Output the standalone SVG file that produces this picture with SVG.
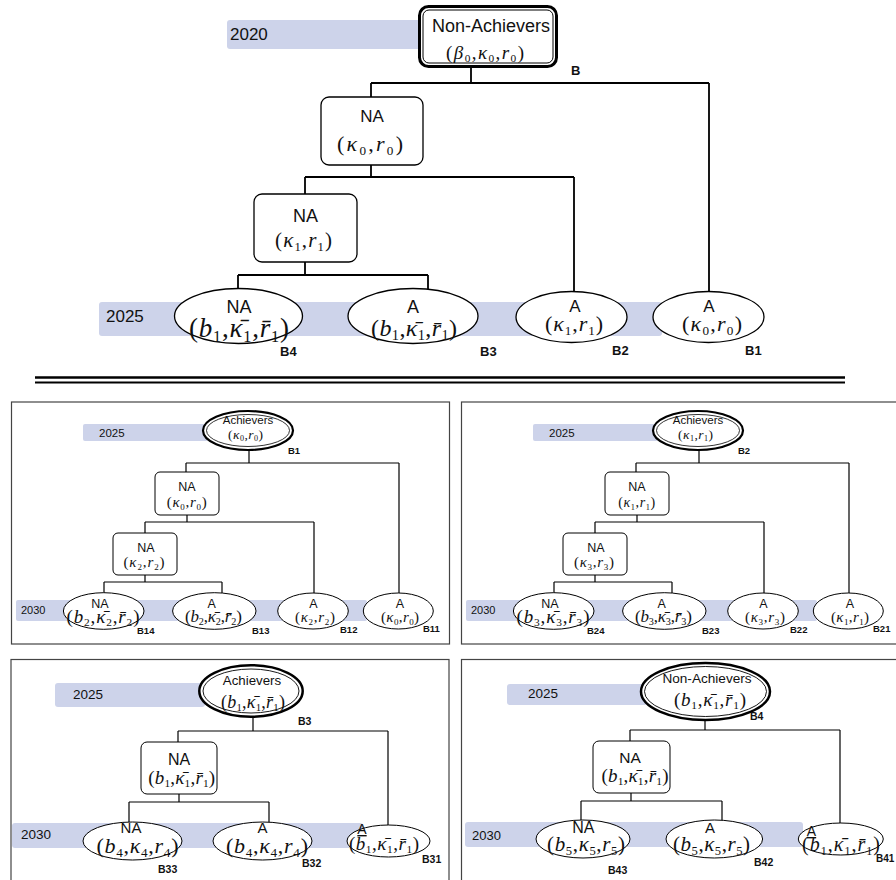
<svg xmlns="http://www.w3.org/2000/svg" width="896" height="880" viewBox="0 0 896 880">
<style>
.band{fill:#cdd3ea}
.yr{font-family:"Liberation Sans",Arial,sans-serif;fill:#111}
.t{font-family:"Liberation Sans",Arial,sans-serif;text-anchor:middle;fill:#111}
.m{font-family:"Liberation Serif","Times New Roman",serif;text-anchor:middle;fill:#111}
.i{font-style:italic}
.s{font-size:60%}
.ul{text-decoration:underline}
.lb{font-family:"Liberation Sans",Arial,sans-serif;font-weight:bold;fill:#111}
.nd{fill:#fff;stroke:#000;stroke-width:1.3}
.nd2{fill:#fff;stroke:#000;stroke-width:1}
.thick{fill:#fff;stroke:#000}
.thin{fill:none;stroke:#000}
.c1{fill:none;stroke:#000;stroke-width:1.8}
.c2{fill:none;stroke:#000;stroke-width:1.2}
.pn{fill:none;stroke:#444;stroke-width:1.2}
.sep{stroke:#000;stroke-width:2.5}
</style>

<g id="panels">
<rect class="pn" x="11.5" y="402" width="438" height="242"/>
<rect class="pn" x="461.5" y="402" width="450" height="242"/>
<rect class="pn" x="11" y="659.5" width="438" height="240"/>
<rect class="pn" x="461.5" y="659.5" width="450" height="240"/>
</g>

<g id="separator">
<line class="sep" x1="35" y1="377.5" x2="845" y2="377.5"/>
<line class="sep" x1="35" y1="382.5" x2="845" y2="382.5" style="stroke-width:2"/>
</g>

<g id="bands">
<rect class="band" x="227" y="20" width="200" height="29" rx="3"/>
<text class="yr" x="230" y="39.5" font-size="17">2020</text>
<rect class="band" x="99" y="302" width="563" height="34" rx="3"/>
<text class="yr" x="106" y="322" font-size="17">2025</text>

<rect class="band" x="83" y="424" width="125" height="17" rx="2"/>
<text class="yr" x="99" y="436.5" font-size="11.5">2025</text>
<rect class="band" x="16" y="600" width="351" height="21" rx="2"/>
<text class="yr" x="21" y="614" font-size="11">2030</text>

<rect class="band" x="533" y="424" width="125" height="17" rx="2"/>
<text class="yr" x="549" y="436.5" font-size="11.5">2025</text>
<rect class="band" x="466" y="600" width="351" height="21" rx="2"/>
<text class="yr" x="471" y="614" font-size="11">2030</text>

<rect class="band" x="55" y="683" width="150" height="24" rx="3"/>
<text class="yr" x="73" y="699" font-size="13.5">2025</text>
<rect class="band" x="12" y="823" width="351" height="25" rx="3"/>
<text class="yr" x="21" y="839" font-size="13.5">2030</text>

<rect class="band" x="507" y="684" width="140" height="21" rx="3"/>
<text class="yr" x="528" y="698" font-size="13.5">2025</text>
<rect class="band" x="465" y="822" width="338" height="25" rx="3"/>
<text class="yr" x="472" y="840" font-size="13">2030</text>
</g>

<g id="connectors">
<path class="c1" d="M471 67V83M371 83H709M371 83V97M709 83V291.5M371 165V177M305 177H574M305 177V194M574 177V291.7M305 262V275M238 275H428M238 275V288.5M428 275V289"/>
<path class="c2" d="M249 450V463M186 463H399M186 463V472M399 463V593M187 515V522M145 522H314M145 522V533M314 522V593M145 575V582M104 582H222M104 582V592.7M222 582V593.3"/>
<path class="c2" d="M699 450V463M636 463H849M636 463V472M849 463V593M637 515V522M595 522H764M595 522V533M764 522V593M595 575V582M554 582H672M554 582V592.7M672 582V593.3"/>
<path class="c2" d="M253 717V731M178 731H388M178 731V742M388 731V825M179 794V802M129 802H269M129 802V822M269 802V822.5"/>
<path class="c2" d="M705 720V730M630 730H840M630 730V741M840 730V823M631 793V801M581 801H722M581 801V820M722 801V820.5"/>
</g>

<!-- Top tree -->
<g id="B">
<rect class="thick" x="419.5" y="6.5" width="137" height="60" rx="9" stroke-width="3"/>
<rect class="thin" x="423" y="10" width="130" height="53" rx="6" stroke-width="1"/>
<text class="t" x="491" y="32" font-size="18">Non-Achievers</text>
<text class="m" x="485" y="59" font-size="19" textLength="78" lengthAdjust="spacing">(<tspan class="i">β</tspan><tspan class="s" dy=".3em">0</tspan><tspan dy="-.18em">,</tspan><tspan class="i">κ</tspan><tspan class="s" dy=".3em">0</tspan><tspan dy="-.18em">,</tspan><tspan class="i">r</tspan><tspan class="s" dy=".3em">0</tspan><tspan dy="-.18em">)</tspan></text>
<text class="lb" x="571" y="75" font-size="13">B</text>
</g>

<g id="B-NA0">
<rect class="nd" x="321" y="97" width="102" height="68" rx="8"/>
<text class="t" x="372" y="122" font-size="17">NA</text>
<text class="m" x="370" y="151" font-size="22" textLength="66" lengthAdjust="spacing">(<tspan class="i">κ</tspan><tspan class="s" dy=".3em">0</tspan><tspan dy="-.18em">,</tspan><tspan class="i">r</tspan><tspan class="s" dy=".3em">0</tspan><tspan dy="-.18em">)</tspan></text>
</g>

<g id="B-NA1">
<rect class="nd" x="254" y="194" width="103" height="68" rx="8"/>
<text class="t" x="305.5" y="222" font-size="18">NA</text>
<text class="m" x="303.5" y="247" font-size="21" textLength="57" lengthAdjust="spacing">(<tspan class="i">κ</tspan><tspan class="s" dy=".3em">1</tspan><tspan dy="-.18em">,</tspan><tspan class="i">r</tspan><tspan class="s" dy=".3em">1</tspan><tspan dy="-.18em">)</tspan></text>
</g>

<g id="B4">
<ellipse class="nd" cx="238.5" cy="316" rx="64" ry="27.5"/>
<text class="t" x="239" y="313" font-size="18">NA</text>
<text class="m" x="239" y="337" font-size="27" textLength="100" lengthAdjust="spacing">(<tspan class="i">b</tspan><tspan class="s" dy=".3em">1</tspan><tspan dy="-.18em">,</tspan><tspan class="i">κ&#x304;</tspan><tspan class="s" dy=".3em">1</tspan><tspan dy="-.18em">,</tspan><tspan class="i">r&#x304;</tspan><tspan class="s" dy=".3em">1</tspan><tspan dy="-.18em">)</tspan></text>
<text class="lb" x="280" y="356" font-size="13">B4</text>
</g>

<g id="B3">
<ellipse class="nd" cx="413" cy="316" rx="65" ry="27.5"/>
<text class="t" x="413" y="313" font-size="18">A</text>
<text class="m" x="414" y="336" font-size="24" textLength="86" lengthAdjust="spacing">(<tspan class="i">b</tspan><tspan class="s" dy=".3em">1</tspan><tspan dy="-.18em">,</tspan><tspan class="i">κ&#x304;</tspan><tspan class="s" dy=".3em">1</tspan><tspan dy="-.18em">,</tspan><tspan class="i">r&#x304;</tspan><tspan class="s" dy=".3em">1</tspan><tspan dy="-.18em">)</tspan></text>
<text class="lb" x="480" y="356" font-size="13">B3</text>
</g>

<g id="B2">
<ellipse class="nd" cx="571.5" cy="317" rx="55.5" ry="25.5"/>
<text class="t" x="575" y="312" font-size="17">A</text>
<text class="m" x="574" y="331" font-size="22" textLength="58" lengthAdjust="spacing">(<tspan class="i">κ</tspan><tspan class="s" dy=".3em">1</tspan><tspan dy="-.18em">,</tspan><tspan class="i">r</tspan><tspan class="s" dy=".3em">1</tspan><tspan dy="-.18em">)</tspan></text>
<text class="lb" x="612" y="355" font-size="13">B2</text>
</g>

<g id="B1">
<ellipse class="nd" cx="708.5" cy="317" rx="55.5" ry="25.5"/>
<text class="t" x="709" y="312" font-size="17">A</text>
<text class="m" x="712" y="331" font-size="22" textLength="60" lengthAdjust="spacing">(<tspan class="i">κ</tspan><tspan class="s" dy=".3em">0</tspan><tspan dy="-.18em">,</tspan><tspan class="i">r</tspan><tspan class="s" dy=".3em">0</tspan><tspan dy="-.18em">)</tspan></text>
<text class="lb" x="745" y="355" font-size="13">B1</text>
</g>

<!-- Panel 1 -->
<g id="P1-B1">
<ellipse class="thick" cx="248" cy="430.5" rx="45" ry="19.5" stroke-width="2.2"/>
<ellipse class="thin" cx="248" cy="430.5" rx="41.5" ry="16" stroke-width="0.8"/>
<text class="t" x="248" y="424" font-size="11.5">Achievers</text>
<text class="m" x="245.5" y="439" font-size="13.5" textLength="35" lengthAdjust="spacing">(<tspan class="i">κ</tspan><tspan class="s" dy=".3em">0</tspan><tspan dy="-.18em">,</tspan><tspan class="i">r</tspan><tspan class="s" dy=".3em">0</tspan><tspan dy="-.18em">)</tspan></text>
<text class="lb" x="288" y="454" font-size="9.5">B1</text>
</g>
<g id="P1-NA0">
<rect class="nd2" x="155" y="472" width="64" height="43" rx="5"/>
<text class="t" x="187" y="490.5" font-size="12.5">NA</text>
<text class="m" x="186.7" y="507" font-size="15" textLength="40" lengthAdjust="spacing">(<tspan class="i">κ</tspan><tspan class="s" dy=".3em">0</tspan><tspan dy="-.18em">,</tspan><tspan class="i">r</tspan><tspan class="s" dy=".3em">0</tspan><tspan dy="-.18em">)</tspan></text>
</g>
<g id="P1-NA2">
<rect class="nd2" x="113" y="533" width="64" height="42" rx="5"/>
<text class="t" x="146" y="551.5" font-size="12.5">NA</text>
<text class="m" x="144" y="567" font-size="15" textLength="41" lengthAdjust="spacing">(<tspan class="i">κ</tspan><tspan class="s" dy=".3em">2</tspan><tspan dy="-.18em">,</tspan><tspan class="i">r</tspan><tspan class="s" dy=".3em">2</tspan><tspan dy="-.18em">)</tspan></text>
</g>
<g id="B14">
<ellipse class="nd2" cx="103.7" cy="611" rx="40.3" ry="18.3"/>
<text class="t" x="100" y="608" font-size="12.5">NA</text>
<text class="m" x="103" y="623" font-size="19" textLength="73" lengthAdjust="spacing">(<tspan class="i">b</tspan><tspan class="s" dy=".3em">2</tspan><tspan dy="-.18em">,</tspan><tspan class="i">κ&#x304;</tspan><tspan class="s" dy=".3em">2</tspan><tspan dy="-.18em">,</tspan><tspan class="i">r&#x304;</tspan><tspan class="s" dy=".3em">2</tspan><tspan dy="-.18em">)</tspan></text>
<text class="lb" x="137" y="634" font-size="9.5">B14</text>
</g>
<g id="B13">
<ellipse class="nd2" cx="214.3" cy="611" rx="41.7" ry="18.3"/>
<text class="t" x="211.7" y="608" font-size="12.5">A</text>
<text class="m" x="213.4" y="622" font-size="17" textLength="57" lengthAdjust="spacing">(<tspan class="i">b</tspan><tspan class="s" dy=".3em">2</tspan><tspan dy="-.18em">,</tspan><tspan class="i">κ&#x304;</tspan><tspan class="s" dy=".3em">2</tspan><tspan dy="-.18em">,</tspan><tspan class="i">r&#x304;</tspan><tspan class="s" dy=".3em">2</tspan><tspan dy="-.18em">)</tspan></text>
<text class="lb" x="252" y="634" font-size="9.5">B13</text>
</g>
<g id="B12">
<ellipse class="nd2" cx="313" cy="611" rx="35.3" ry="18"/>
<text class="t" x="313.3" y="608" font-size="12.5">A</text>
<text class="m" x="315" y="622" font-size="15" textLength="40" lengthAdjust="spacing">(<tspan class="i">κ</tspan><tspan class="s" dy=".3em">2</tspan><tspan dy="-.18em">,</tspan><tspan class="i">r</tspan><tspan class="s" dy=".3em">2</tspan><tspan dy="-.18em">)</tspan></text>
<text class="lb" x="340" y="633" font-size="9.5">B12</text>
</g>
<g id="B11">
<ellipse class="nd2" cx="398.3" cy="611" rx="35" ry="18"/>
<text class="t" x="400" y="608" font-size="12.5">A</text>
<text class="m" x="400" y="622" font-size="15" textLength="38" lengthAdjust="spacing">(<tspan class="i">κ</tspan><tspan class="s" dy=".3em">0</tspan><tspan dy="-.18em">,</tspan><tspan class="i">r</tspan><tspan class="s" dy=".3em">0</tspan><tspan dy="-.18em">)</tspan></text>
<text class="lb" x="423" y="632" font-size="9.5">B11</text>
</g>

<!-- Panel 2 -->
<g id="P2-B2">
<ellipse class="thick" cx="698" cy="430.5" rx="45" ry="19.5" stroke-width="2.2"/>
<ellipse class="thin" cx="698" cy="430.5" rx="41.5" ry="16" stroke-width="0.8"/>
<text class="t" x="698" y="424" font-size="11.5">Achievers</text>
<text class="m" x="695.5" y="439" font-size="13.5" textLength="35" lengthAdjust="spacing">(<tspan class="i">κ</tspan><tspan class="s" dy=".3em">1</tspan><tspan dy="-.18em">,</tspan><tspan class="i">r</tspan><tspan class="s" dy=".3em">1</tspan><tspan dy="-.18em">)</tspan></text>
<text class="lb" x="738" y="454" font-size="9.5">B2</text>
</g>
<g id="P2-NA1">
<rect class="nd2" x="605" y="472" width="64" height="43" rx="5"/>
<text class="t" x="637" y="490.5" font-size="12.5">NA</text>
<text class="m" x="636.7" y="507" font-size="14" textLength="37" lengthAdjust="spacing">(<tspan class="i">κ</tspan><tspan class="s" dy=".3em">1</tspan><tspan dy="-.18em">,</tspan><tspan class="i">r</tspan><tspan class="s" dy=".3em">1</tspan><tspan dy="-.18em">)</tspan></text>
</g>
<g id="P2-NA3">
<rect class="nd2" x="563" y="533" width="64" height="42" rx="5"/>
<text class="t" x="596" y="551.5" font-size="12.5">NA</text>
<text class="m" x="594" y="567" font-size="15" textLength="40" lengthAdjust="spacing">(<tspan class="i">κ</tspan><tspan class="s" dy=".3em">3</tspan><tspan dy="-.18em">,</tspan><tspan class="i">r</tspan><tspan class="s" dy=".3em">3</tspan><tspan dy="-.18em">)</tspan></text>
</g>
<g id="B24">
<ellipse class="nd2" cx="553.7" cy="611" rx="40.3" ry="18.3"/>
<text class="t" x="550" y="608" font-size="12.5">NA</text>
<text class="m" x="553" y="623" font-size="19" textLength="73" lengthAdjust="spacing">(<tspan class="i">b</tspan><tspan class="s" dy=".3em">3</tspan><tspan dy="-.18em">,</tspan><tspan class="i">κ&#x304;</tspan><tspan class="s" dy=".3em">3</tspan><tspan dy="-.18em">,</tspan><tspan class="i">r&#x304;</tspan><tspan class="s" dy=".3em">3</tspan><tspan dy="-.18em">)</tspan></text>
<text class="lb" x="587" y="634" font-size="9.5">B24</text>
</g>
<g id="B23">
<ellipse class="nd2" cx="664.3" cy="611" rx="41.7" ry="18.3"/>
<text class="t" x="661.7" y="608" font-size="12.5">A</text>
<text class="m" x="663.4" y="622" font-size="17" textLength="57" lengthAdjust="spacing">(<tspan class="i">b</tspan><tspan class="s" dy=".3em">3</tspan><tspan dy="-.18em">,</tspan><tspan class="i">κ&#x304;</tspan><tspan class="s" dy=".3em">3</tspan><tspan dy="-.18em">,</tspan><tspan class="i">r&#x304;</tspan><tspan class="s" dy=".3em">3</tspan><tspan dy="-.18em">)</tspan></text>
<text class="lb" x="702" y="634" font-size="9.5">B23</text>
</g>
<g id="B22">
<ellipse class="nd2" cx="763" cy="611" rx="35.3" ry="18"/>
<text class="t" x="763.3" y="608" font-size="12.5">A</text>
<text class="m" x="765" y="622" font-size="15" textLength="40" lengthAdjust="spacing">(<tspan class="i">κ</tspan><tspan class="s" dy=".3em">3</tspan><tspan dy="-.18em">,</tspan><tspan class="i">r</tspan><tspan class="s" dy=".3em">3</tspan><tspan dy="-.18em">)</tspan></text>
<text class="lb" x="790" y="633" font-size="9.5">B22</text>
</g>
<g id="B21">
<ellipse class="nd2" cx="848.3" cy="611" rx="35" ry="18"/>
<text class="t" x="850" y="608" font-size="12.5">A</text>
<text class="m" x="850" y="622" font-size="15" textLength="38" lengthAdjust="spacing">(<tspan class="i">κ</tspan><tspan class="s" dy=".3em">1</tspan><tspan dy="-.18em">,</tspan><tspan class="i">r</tspan><tspan class="s" dy=".3em">1</tspan><tspan dy="-.18em">)</tspan></text>
<text class="lb" x="873" y="632" font-size="9.5">B21</text>
</g>

<!-- Panel 3 -->
<g id="P3-B3">
<ellipse class="thick" cx="251" cy="691" rx="51.7" ry="25.8" stroke-width="2.5"/>
<ellipse class="thin" cx="251" cy="691" rx="48" ry="22" stroke-width="0.9"/>
<text class="t" x="252" y="685" font-size="13.3">Achievers</text>
<text class="m" x="253" y="708" font-size="18" textLength="64" lengthAdjust="spacing">(<tspan class="i">b</tspan><tspan class="s" dy=".3em">1</tspan><tspan dy="-.18em">,</tspan><tspan class="i">κ&#x304;</tspan><tspan class="s" dy=".3em">1</tspan><tspan dy="-.18em">,</tspan><tspan class="i">r&#x304;</tspan><tspan class="s" dy=".3em">1</tspan><tspan dy="-.18em">)</tspan></text>
<text class="lb" x="298" y="725" font-size="10.5">B3</text>
</g>
<g id="P3-NA">
<rect class="nd2" x="141" y="742" width="76" height="52" rx="6"/>
<text class="t" x="179" y="765" font-size="16">NA</text>
<text class="m" x="181.7" y="784" font-size="19" textLength="67" lengthAdjust="spacing">(<tspan class="i">b</tspan><tspan class="s" dy=".3em">1</tspan><tspan dy="-.18em">,</tspan><tspan class="i">κ&#x304;</tspan><tspan class="s" dy=".3em">1</tspan><tspan dy="-.18em">,</tspan><tspan class="i">r&#x304;</tspan><tspan class="s" dy=".3em">1</tspan><tspan dy="-.18em">)</tspan></text>
</g>
<g id="B33">
<ellipse class="nd2" cx="132.5" cy="841" rx="49.5" ry="19"/>
<text class="t" x="131" y="833" font-size="15">NA</text>
<text class="m" x="137.5" y="853" font-size="22" textLength="82" lengthAdjust="spacing">(<tspan class="i">b</tspan><tspan class="s" dy=".3em">4</tspan><tspan dy="-.18em">,</tspan><tspan class="i">κ</tspan><tspan class="s" dy=".3em">4</tspan><tspan dy="-.18em">,</tspan><tspan class="i">r</tspan><tspan class="s" dy=".3em">4</tspan><tspan dy="-.18em">)</tspan></text>
<text class="lb" x="158" y="873" font-size="10.5">B33</text>
</g>
<g id="B32">
<ellipse class="nd2" cx="262.5" cy="841" rx="49.5" ry="19"/>
<text class="t" x="262.5" y="833" font-size="15">A</text>
<text class="m" x="267" y="853" font-size="22" textLength="82" lengthAdjust="spacing">(<tspan class="i">b</tspan><tspan class="s" dy=".3em">4</tspan><tspan dy="-.18em">,</tspan><tspan class="i">κ</tspan><tspan class="s" dy=".3em">4</tspan><tspan dy="-.18em">,</tspan><tspan class="i">r</tspan><tspan class="s" dy=".3em">4</tspan><tspan dy="-.18em">)</tspan></text>
<text class="lb" x="302" y="867" font-size="10.5">B32</text>
</g>
<g id="B31">
<ellipse class="nd2" cx="388.5" cy="841" rx="41.5" ry="16"/>
<text class="t ul" x="362" y="834" font-size="14">A</text>
<text class="m" x="384" y="850" font-size="19" textLength="70" lengthAdjust="spacing">(<tspan class="i">b</tspan><tspan class="s" dy=".3em">1</tspan><tspan dy="-.18em">,</tspan><tspan class="i">κ&#x304;</tspan><tspan class="s" dy=".3em">1</tspan><tspan dy="-.18em">,</tspan><tspan class="i">r&#x304;</tspan><tspan class="s" dy=".3em">1</tspan><tspan dy="-.18em">)</tspan></text>
<text class="lb" x="422" y="863" font-size="10.5">B31</text>
</g>

<!-- Panel 4 -->
<g id="P4-B4">
<ellipse class="thick" cx="705.5" cy="691.5" rx="64.5" ry="28.5" stroke-width="2.5"/>
<ellipse class="thin" cx="705.5" cy="691.5" rx="61" ry="25" stroke-width="0.9"/>
<text class="t" x="707" y="683" font-size="13.6">Non-Achievers</text>
<text class="m" x="710" y="706" font-size="19" textLength="72" lengthAdjust="spacing">(<tspan class="i">b</tspan><tspan class="s" dy=".3em">1</tspan><tspan dy="-.18em">,</tspan><tspan class="i">κ&#x304;</tspan><tspan class="s" dy=".3em">1</tspan><tspan dy="-.18em">,</tspan><tspan class="i">r&#x304;</tspan><tspan class="s" dy=".3em">1</tspan><tspan dy="-.18em">)</tspan></text>
<text class="lb" x="750" y="720" font-size="10.5">B4</text>
</g>
<g id="P4-NA">
<rect class="nd2" x="593" y="741" width="77" height="52" rx="6"/>
<text class="t" x="630" y="763" font-size="15.5">NA</text>
<text class="m" x="635" y="782" font-size="19" textLength="67" lengthAdjust="spacing">(<tspan class="i">b</tspan><tspan class="s" dy=".3em">1</tspan><tspan dy="-.18em">,</tspan><tspan class="i">κ&#x304;</tspan><tspan class="s" dy=".3em">1</tspan><tspan dy="-.18em">,</tspan><tspan class="i">r&#x304;</tspan><tspan class="s" dy=".3em">1</tspan><tspan dy="-.18em">)</tspan></text>
</g>
<g id="B43">
<ellipse class="nd2" cx="583" cy="839" rx="47" ry="19"/>
<text class="t" x="583.3" y="833" font-size="16">NA</text>
<text class="m" x="586" y="851" font-size="21" textLength="78" lengthAdjust="spacing">(<tspan class="i">b</tspan><tspan class="s" dy=".3em">5</tspan><tspan dy="-.18em">,</tspan><tspan class="i">κ</tspan><tspan class="s" dy=".3em">5</tspan><tspan dy="-.18em">,</tspan><tspan class="i">r</tspan><tspan class="s" dy=".3em">5</tspan><tspan dy="-.18em">)</tspan></text>
<text class="lb" x="608" y="874" font-size="10.5">B43</text>
</g>
<g id="B42">
<ellipse class="nd2" cx="714.3" cy="839" rx="48.3" ry="19"/>
<text class="t" x="710" y="833" font-size="15">A</text>
<text class="m" x="711.5" y="851" font-size="21" textLength="77" lengthAdjust="spacing">(<tspan class="i">b</tspan><tspan class="s" dy=".3em">5</tspan><tspan dy="-.18em">,</tspan><tspan class="i">κ</tspan><tspan class="s" dy=".3em">5</tspan><tspan dy="-.18em">,</tspan><tspan class="i">r</tspan><tspan class="s" dy=".3em">5</tspan><tspan dy="-.18em">)</tspan></text>
<text class="lb" x="754" y="866" font-size="10.5">B42</text>
</g>
<g id="B41">
<ellipse class="nd2" cx="840.8" cy="839" rx="42.5" ry="16"/>
<text class="t ul" x="811.5" y="836" font-size="14">A</text>
<text class="m" x="841" y="851" font-size="20" textLength="78" lengthAdjust="spacing">(<tspan class="i">b</tspan><tspan class="s" dy=".3em">1</tspan><tspan dy="-.18em">,</tspan><tspan class="i">κ&#x304;</tspan><tspan class="s" dy=".3em">1</tspan><tspan dy="-.18em">,</tspan><tspan class="i">r&#x304;</tspan><tspan class="s" dy=".3em">1</tspan><tspan dy="-.18em">)</tspan></text>
<text class="lb" x="876" y="862" font-size="10">B41</text>
</g>
</svg>
